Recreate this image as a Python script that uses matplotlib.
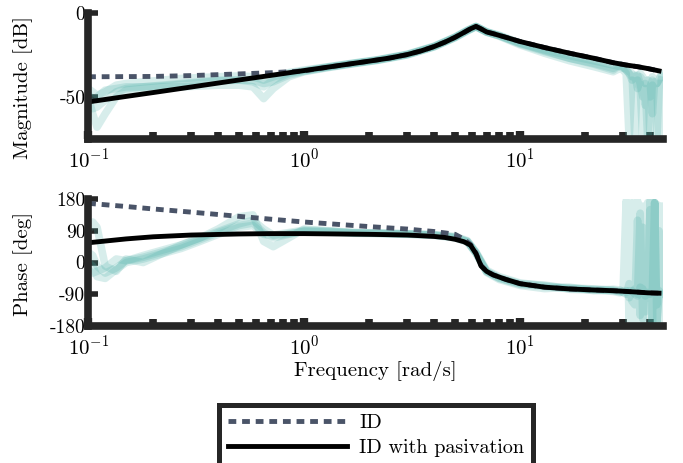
# Bode plot: identified model vs. passivated model, with measured responses
import numpy as np
from matplotlib import pyplot as plt

plt.rcParams['font.family'] = 'cmr10'
plt.rcParams['mathtext.fontset'] = 'cm'
plt.rcParams['axes.formatter.use_mathtext'] = True
plt.rcParams['axes.unicode_minus'] = False

# model frequencies [rad/s]
f_model = [0.1, 0.15, 0.2, 0.3, 0.5, 0.7, 1, 1.45, 2, 2.5, 3, 3.5, 4, 4.5, 5, 5.5, 5.9,
           6.25, 6.6, 7.0, 7.5, 8.6, 10, 13, 17, 22, 27, 31, 35, 39, 44]

# ID model (dashed)
mag_id = [-38, -37.9, -37.8, -37.3, -36.3, -35.6, -34.5, -31.3, -28.7, -26.8, -24.8, -22.5,
          -20, -17.3, -14.5, -11.6, -9.4, -8, -9.5, -11.3, -12.3, -14.5, -17, -20.6, -24,
          -27, -29.6, -31, -32, -33.1, -34.5]
phase_id = [168, 159, 152, 143, 131, 123, 115, 108, 102, 98, 95, 91, 88, 84, 80, 66, 51,
            27, -8, -25, -35, -48, -60, -70, -75, -78, -80, -82, -84, -86, -87]

# ID with pasivation (solid)
mag_pas = [-53, -49.7, -47.4, -44.1, -39.9, -37.2, -34.3, -31.3, -28.7, -26.8, -24.8, -22.5,
           -20, -17.3, -14.5, -11.6, -9.4, -8, -9.5, -11.3, -12.3, -14.5, -17, -20.6, -24,
           -27, -29.6, -31, -32, -33.1, -34.5]
phase_pas = [56, 67, 73, 78, 81, 82, 82, 81, 80, 79, 78, 76, 74, 71, 66, 59, 49,
             25, -10, -25, -35, -48, -60, -70, -75, -78, -80, -82, -84, -86, -87]

# measured responses (teal), low/mid frequency part
f_meas = [0.1, 0.105, 0.11, 0.12, 0.135, 0.15, 0.18, 0.22, 0.27, 0.33,
          0.4, 0.5, 0.58, 0.65, 0.72, 0.85, 1.0, 1.3, 1.7, 2.2,
          3, 4, 5, 5.7, 6.25, 7, 8, 10, 13, 17,
          22, 27]
mag_meas = [
    [-48, -52, -50, -46, -45, -44, -44, -43, -42, -41,
     -40, -40, -41, -44, -40, -36, -34.5, -32, -29.8, -27.8,
     -24.6, -19.8, -14.3, -10.3, -8, -11.5, -13.5, -18.5, -23, -27,
     -30, -33],
    [-50, -60, -68, -60, -50, -46, -45, -44, -44, -43.5,
     -43, -43, -44, -51, -45, -38, -35, -32.5, -30.2, -28.2,
     -25, -20.2, -14.7, -10.7, -8.2, -11.2, -13.8, -19, -24, -28.5,
     -32, -35],
    [-45, -47, -49, -47, -43, -42, -41, -40, -39, -38.5,
     -38, -37.5, -38, -40, -38, -35.5, -34, -32, -29.9, -27.9,
     -24.7, -19.9, -14.4, -10.4, -8.1, -11.3, -13.2, -18, -22, -25.5,
     -28.5, -31],
    [-55, -57, -56, -52, -47, -45, -44, -43.5, -42.5, -41.5,
     -40.5, -40, -40, -42, -41, -37, -34.8, -32.3, -30.1, -28.1,
     -24.9, -20.1, -14.6, -10.6, -8.1, -11.4, -13.6, -18, -22.5, -27,
     -30.5, -34],
]
phase_meas = [
    [-20, -30, -25, -15, 10, 5, 15, 30, 45, 65,
     85, 105, 112, 85, 70, 80, 90, 88, 84, 83,
     81, 78, 72, 60, 28, -25, -45, -62, -68, -74,
     -76, -80],
    [90, 115, 100, -10, -25, 10, 0, 25, 50, 70,
     95, 130, 135, 60, 45, 70, 95, 90, 85, 84,
     82, 79, 74, 62, 30, -22, -40, -58, -66, -72,
     -75, -78],
    [0, -10, -40, -45, -20, 0, 10, 25, 40, 60,
     80, 100, 105, 80, 75, 82, 88, 86, 83, 82,
     80, 77, 70, 58, 27, -28, -48, -65, -74, -70,
     -80, -76],
    [30, 20, -10, -30, -15, 5, 20, 35, 50, 70,
     88, 110, 120, 95, 78, 85, 92, 89, 85, 83,
     81, 78, 71, 60, 26, -26, -44, -60, -64, -76,
     -78, -82],
]

# measured responses (teal), noisy high frequency tail
f_tail = [29, 30, 31, 32, 33, 34, 35, 36, 37, 38, 39, 40, 41, 42, 43, 44, 45]
mag_tail = [
    [-31, -32, -34, -36, -40, -38, -37, -42, -50, -45, -75, -44, -40, -42, -75, -45, -40],
    [-33, -34, -36, -75, -40, -42, -40, -45, -75, -42, -45, -50, -43, -47, -45, -75, -42],
    [-32, -33, -33, -35, -36, -75, -38, -36, -38, -55, -40, -75, -38, -40, -42, -39, -38],
    [-31, -32, -34, -36, -38, -37, -45, -38, -40, -42, -40, -41, -60, -41, -42, -40, -36],
]
phase_tail = [
    [-83, -85, -85, -80, -80, -90, -95, -70, -75, -95, -85, -90, -80, 170, -170, -90, -90],
    [-82, -80, 175, -170, 170, -175, 175, -170, 160, -165, 170, -175, 175, -160, 165, -170, 160],
    [-78, -85, -90, -60, -110, -120, 120, -150, 100, -140, -60, 150, -170, 170, -120, 90, -80],
    [-86, -80, -80, -100, -85, -75, -90, 140, -160, -60, -100, 175, -175, 170, -170, -80, -90],
]

mag_ticks = [-50, 0]
mag_ticklabels = ['-50', '0']
phase_ticks = [-180, -90, 0, 90, 180]
phase_ticklabels = ['-180', '-90', '0', '90', '180']

teal = '#4cb0a8'
slate = '#4a5468'
spine_col = '#262626'

fig = plt.figure(figsize=(6.83, 4.63), dpi=100)
ax_mag = fig.add_axes([0.129, 0.700, 0.842, 0.272])
ax_ph = fig.add_axes([0.129, 0.296, 0.842, 0.274])

f_all = f_meas + f_tail
for m, mt, p, pt in zip(mag_meas, mag_tail, phase_meas, phase_tail):
    ax_mag.plot(f_all, m + mt, color=teal, alpha=0.22, lw=5.5)
    ax_ph.plot(f_all, p + pt, color=teal, alpha=0.22, lw=5.5)

dash = (0, (1.6, 1.2))
l_id, = ax_mag.plot(f_model, mag_id, color=slate, lw=3.5, ls=dash)
l_pas, = ax_mag.plot(f_model, mag_pas, color='black', lw=3.5)
ax_ph.plot(f_model, phase_id, color=slate, lw=3.5, ls=dash)
ax_ph.plot(f_model, phase_pas, color='black', lw=3.5)

for ax in (ax_mag, ax_ph):
    ax.set_xscale('log')
    ax.set_xlim(0.1, 46)
    for s in ('top', 'right'):
        ax.spines[s].set_visible(False)
    for s in ('left', 'bottom'):
        ax.spines[s].set_linewidth(5.5)
        ax.spines[s].set_color(spine_col)
    ax.tick_params(axis='x', which='major', direction='in', length=6, width=6,
                   color=spine_col, labelsize=15, pad=6)
    ax.tick_params(axis='x', which='minor', direction='in', length=5, width=5.5,
                   color=spine_col)
    ax.tick_params(axis='y', direction='in', length=7, width=4, color=spine_col,
                   labelsize=14, pad=2)

ax_mag.set_ylim(-75, 0)
ax_mag.set_yticks(mag_ticks, mag_ticklabels)
ax_mag.set_ylabel('Magnitude [dB]', fontsize=15)
ax_mag.yaxis.set_label_coords(-0.096, 0.41)

ax_ph.set_ylim(-180, 180)
ax_ph.set_yticks(phase_ticks, phase_ticklabels)
ax_ph.set_ylabel('Phase [deg]', fontsize=15)
ax_ph.yaxis.set_label_coords(-0.096, 0.49)
ax_ph.set_xlabel('Frequency [rad/s]', fontsize=15, labelpad=2)

leg = fig.legend([l_id, l_pas], ['ID', 'ID with pasivation'], loc='upper center',
                 bbox_to_anchor=(0.5505, 0.1253), fontsize=14.5, handlelength=5.9,
                 handletextpad=0.6, fancybox=False, framealpha=1,
                 borderaxespad=0, borderpad=0.45, labelspacing=0.35)
leg.get_frame().set_edgecolor(spine_col)
leg.get_frame().set_linewidth(3.6)

fig.savefig('out.png', dpi=100)
